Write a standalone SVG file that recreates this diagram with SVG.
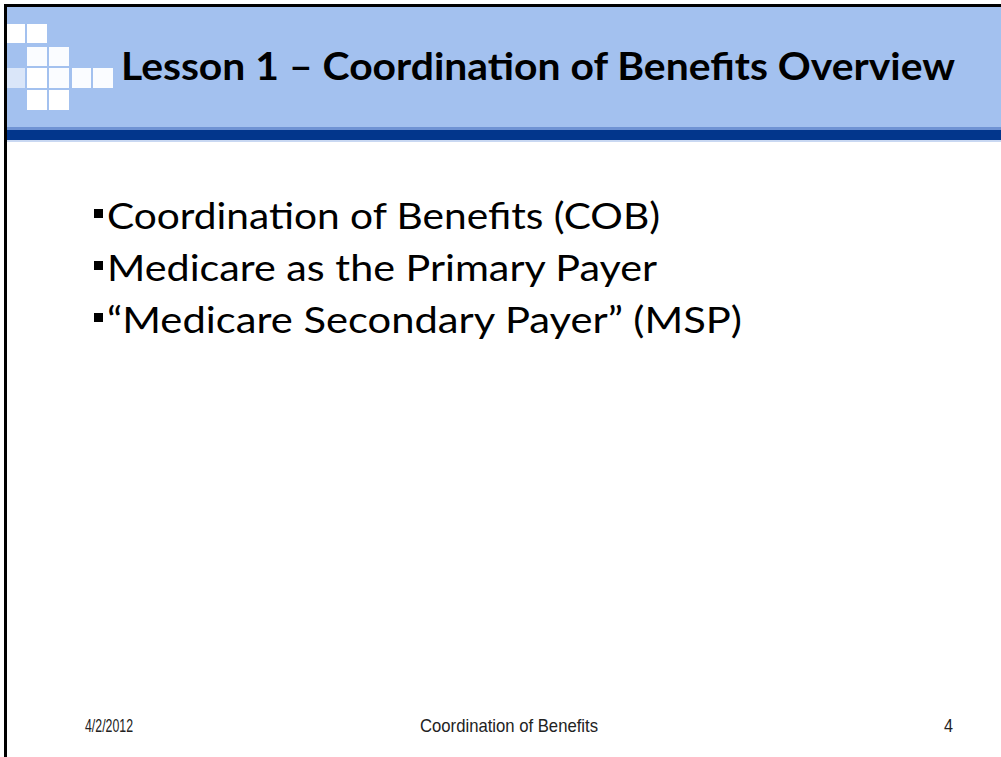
<svg xmlns="http://www.w3.org/2000/svg" width="1001" height="757" viewBox="0 0 1001 757">
<style>
.sq{fill:#ffffff;}
.title{font-family:Lato,"Open Sans",sans-serif;font-weight:bold;font-size:38px;fill:#000;}
.body{font-family:Lato,"Open Sans",sans-serif;font-size:37px;fill:#000;}
.foot{font-family:"Liberation Sans",Arial,sans-serif;font-size:19px;fill:#222;}
.bul{fill:#000;}
</style>
<rect x="0" y="0" width="1001" height="757" fill="#ffffff"/>
<g id="header">
<rect x="5" y="5" width="996" height="125" fill="#a3c1ef"/>
<rect x="5" y="127" width="996" height="3" fill="#6f93d4"/>
<rect x="5" y="130" width="996" height="10" fill="#02368c"/>
<rect x="5" y="140" width="996" height="2" fill="#c9d8f2"/>
</g>
<g id="squares">
<rect class="sq" x="7" y="24" width="18" height="19"/>
<rect class="sq" x="27" y="24" width="20" height="19"/>
<rect class="sq" x="27" y="47" width="20" height="19" opacity="0.95"/>
<rect class="sq" x="49" y="47" width="20" height="19" opacity="0.95"/>
<rect class="sq" x="7" y="68" width="18" height="20" opacity="0.6"/>
<rect class="sq" x="27" y="68" width="20" height="20" fill="#8eb0ea"/>
<rect class="sq" x="49" y="68" width="20" height="20" opacity="0.95"/>
<rect class="sq" x="72" y="68" width="19" height="20" opacity="0.95"/>
<rect class="sq" x="93" y="68" width="20" height="20" opacity="0.95"/>
<rect class="sq" x="27" y="90" width="20" height="20"/>
<rect class="sq" x="49" y="90" width="20" height="20"/>
</g>
<g id="title">
<text class="title" x="121" y="80" textLength="834" lengthAdjust="spacingAndGlyphs">Lesson 1 – Coordination of Benefits Overview</text>
</g>
<g id="bullets">
<rect class="bul" x="94" y="209" width="9" height="9"/>
<text class="body" x="107" y="229" textLength="553" lengthAdjust="spacingAndGlyphs">Coordination of Benefits (COB)</text>
<rect class="bul" x="94" y="261" width="9" height="9"/>
<text class="body" x="107" y="281" textLength="550" lengthAdjust="spacingAndGlyphs">Medicare as the Primary Payer</text>
<rect class="bul" x="94" y="313" width="9" height="9"/>
<text class="body" x="107" y="333" textLength="635" lengthAdjust="spacingAndGlyphs">“Medicare Secondary Payer” (MSP)</text>
</g>
<g id="footer">
<text class="foot" x="85" y="732" textLength="48" lengthAdjust="spacingAndGlyphs">4/2/2012</text>
<text class="foot" x="420" y="732" textLength="178" lengthAdjust="spacingAndGlyphs">Coordination of Benefits</text>
<text class="foot" x="944" y="732" textLength="9" lengthAdjust="spacingAndGlyphs">4</text>
</g>
<g id="border">
<rect x="4" y="4" width="997" height="3" fill="#000"/>
<rect x="4" y="4" width="3" height="753" fill="#000"/>
</g>
</svg>
